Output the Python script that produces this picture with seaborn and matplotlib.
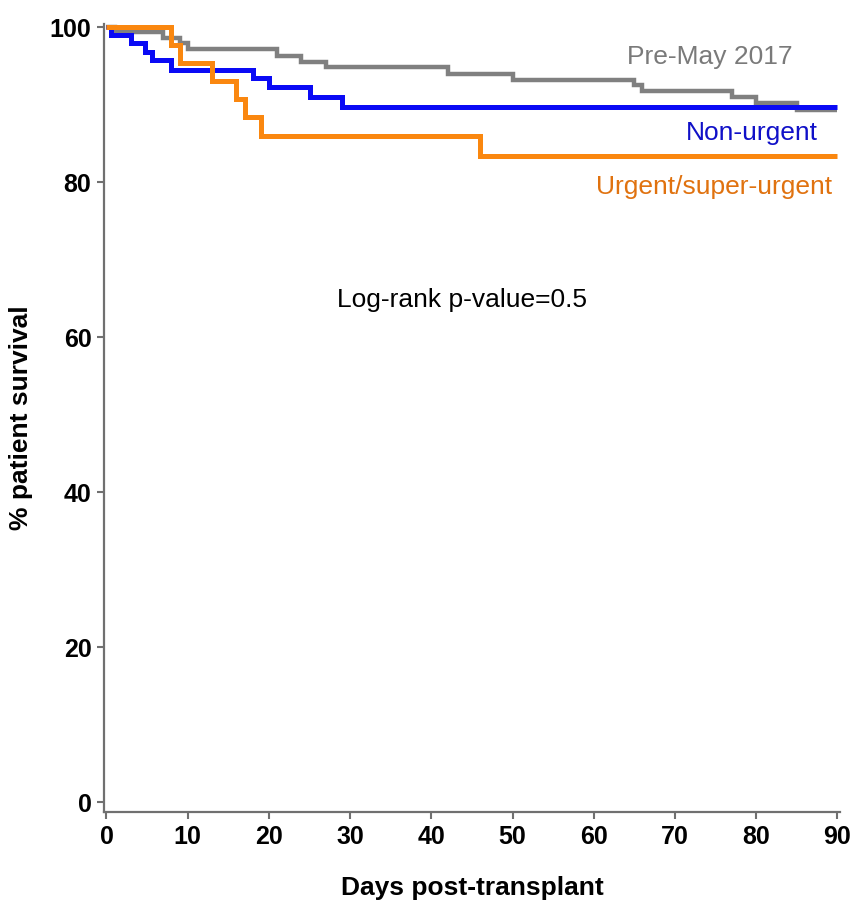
import matplotlib
matplotlib.use("Agg")
import matplotlib.pyplot as plt
import seaborn as sns
import pandas as pd

# ---- data ----
pre_days = [0, 1, 7, 9, 10, 21, 24, 27, 42, 50, 65, 66, 77, 80, 85, 90]
pre_surv = [100, 99.4, 98.6, 97.9, 97.2, 96.3, 95.5, 94.8, 93.9, 93.2, 92.5, 91.7, 91.0, 90.2, 89.3, 89.3]

non_days = [0, 0.5, 3, 4.7, 5.6, 8, 18, 20, 25, 29, 90]
non_surv = [100, 99.0, 97.9, 96.8, 95.7, 94.5, 93.4, 92.3, 91.0, 89.7, 89.7]

urg_days = [0, 8, 9, 13, 16, 17, 19, 46, 90]
urg_surv = [100, 97.7, 95.3, 93.0, 90.7, 88.4, 85.9, 83.3, 83.3]

series_names = ["Pre-May 2017", "Non-urgent", "Urgent/super-urgent"]
line_colors = ["#808080", "#0A0AF5", "#FA870F"]
text_colors = ["#7A7A7A", "#1010C8", "#E0720F"]
x_ticks = [0, 10, 20, 30, 40, 50, 60, 70, 80, 90]
y_ticks = [0, 20, 40, 60, 80, 100]

sns.set_style("ticks")
plt.rcParams["font.family"] = ["Liberation Sans", "DejaVu Sans"]

fig = plt.figure(figsize=(8.53, 9.09), dpi=100)
ax = fig.add_axes([0.1219, 0.1067, 0.8629, 0.8669])

frames = []
for name, d, s in zip(series_names, [pre_days, non_days, urg_days], [pre_surv, non_surv, urg_surv]):
    frames.append(pd.DataFrame({"day": d, "surv": s, "group": name}))

widths = [3.2, 3.6, 3.6]
for df, col, lw in zip(frames, line_colors, widths):
    sns.lineplot(data=df, x="day", y="surv", color=col, linewidth=lw,
                 drawstyle="steps-post", estimator=None, ax=ax, legend=False)
for line in ax.get_lines():
    line.set_clip_on(False)
    line.set_solid_joinstyle("miter")
    line.set_solid_capstyle("butt")

ax.set_xlim(-0.31, 90.33)
ax.set_ylim(-1.29, 100.39)
ax.set_xticks(x_ticks)
ax.set_yticks(y_ticks)
ax.tick_params(axis="both", labelsize=18, width=1.5, length=5, color="#707070",
               labelcolor="black", pad=4)
for lab in ax.get_xticklabels() + ax.get_yticklabels():
    lab.set_fontweight("bold")

for side in ["top", "right"]:
    ax.spines[side].set_visible(False)
for side in ["left", "bottom"]:
    ax.spines[side].set_color("#707070")
    ax.spines[side].set_linewidth(1.6)

ax.set_xlabel("Days post-transplant", fontsize=19, fontweight="bold", labelpad=20, color="black")
ax.set_ylabel("% patient survival", fontsize=19, fontweight="bold", labelpad=12, color="black")

ax.text(84.5, 96.1, series_names[0], color=text_colors[0], fontsize=19, ha="right", va="center")
ax.text(87.6, 86.3, series_names[1], color=text_colors[1], fontsize=19, ha="right", va="center")
ax.text(89.3, 79.4, series_names[2], color=text_colors[2], fontsize=19, ha="right", va="center")
ax.text(28.4, 64.8, "Log-rank p-value=0.5", color="black", fontsize=19, ha="left", va="center")

fig.savefig("out.png", dpi=100)
